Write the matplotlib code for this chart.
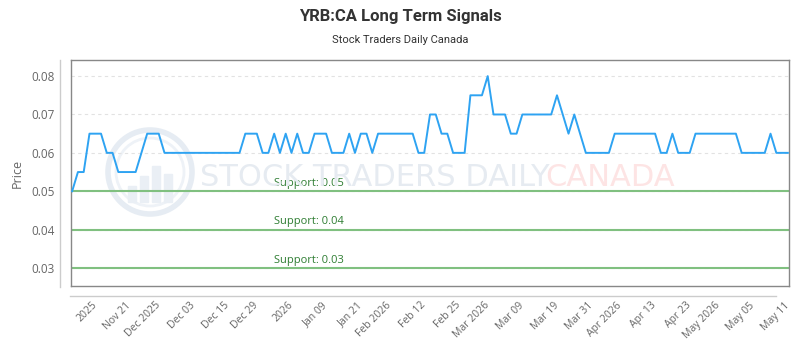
import numpy as np
import matplotlib.pyplot as plt
import matplotlib.transforms as mtransforms
from matplotlib.patches import Circle, Rectangle
from matplotlib.lines import Line2D


prices = [0.05, 0.055, 0.055, 0.065, 0.065, 0.065, 0.06, 0.06, 0.055, 0.055,
          0.055, 0.055, 0.06, 0.065, 0.065, 0.065, 0.06, 0.06, 0.06, 0.06,
          0.06, 0.06, 0.06, 0.06, 0.06, 0.06, 0.06, 0.06, 0.06, 0.06,
          0.065, 0.065, 0.065, 0.06, 0.06, 0.065, 0.06, 0.065, 0.06, 0.065,
          0.06, 0.06, 0.065, 0.065, 0.065, 0.06, 0.06, 0.06, 0.065, 0.06,
          0.065, 0.065, 0.06, 0.065, 0.065, 0.065, 0.065, 0.065, 0.065, 0.065,
          0.06, 0.06, 0.07, 0.07, 0.065, 0.065, 0.06, 0.06, 0.06, 0.075,
          0.075, 0.075, 0.08, 0.07, 0.07, 0.07, 0.065, 0.065, 0.07, 0.07,
          0.07, 0.07, 0.07, 0.07, 0.075, 0.07, 0.065, 0.07, 0.065, 0.06,
          0.06, 0.06, 0.06, 0.06, 0.065, 0.065, 0.065, 0.065, 0.065, 0.065,
          0.065, 0.065, 0.06, 0.06, 0.065, 0.06, 0.06, 0.06, 0.065, 0.065,
          0.065, 0.065, 0.065, 0.065, 0.065, 0.065, 0.06, 0.06, 0.06, 0.06,
          0.06, 0.065, 0.06, 0.06, 0.06]

support_levels = [0.05, 0.04, 0.03]

tick_idx = [4, 10, 15, 21, 27, 32, 38, 44, 50, 55, 61,
            67, 72, 78, 84, 90, 95, 101, 107, 112, 118, 124]
tick_labels = ['2025', 'Nov 21', 'Dec 2025', 'Dec 03', 'Dec 15', 'Dec 29',
               '2026', 'Jan 09', 'Jan 21', 'Feb 2026', 'Feb 12', 'Feb 25',
               'Mar 2026', 'Mar 09', 'Mar 19', 'Mar 31', 'Apr 2026', 'Apr 13',
               'Apr 23', 'May 2026', 'May 05', 'May 11']
y_ticks = [0.03, 0.04, 0.05, 0.06, 0.07, 0.08]

W, H = 800, 350

fig = plt.figure(figsize=(W / 100, H / 100), dpi=100)
ax = fig.add_axes([71 / W, 1 - 286 / H, 718 / W, 226 / H])

# watermark
fig.add_artist(Circle((1.5, 1.78), 0.42, transform=fig.dpi_scale_trans,
                      fill=False, ec='#e6ecf3', lw=4, zorder=0))
fig.add_artist(Circle((1.5, 1.78), 0.34, transform=fig.dpi_scale_trans,
                      fill=False, ec='#eef2f7', lw=2, zorder=0))
for i, h in enumerate([0.16, 0.26, 0.36, 0.28]):
    fig.add_artist(Rectangle((1.28 + i * 0.12, 1.48), 0.08, h,
                             transform=fig.dpi_scale_trans,
                             color='#eaeff5', zorder=0))
fig.text(200 / W, 1 - 178 / H, 'STOCK TRADERS DAILY', family='DejaVu Sans',
         fontsize=22, color='#e6ebf1', va='center', ha='left', zorder=0)
fig.text(545 / W, 1 - 178 / H, 'CANADA', family='DejaVu Sans',
         fontsize=22, color='#fde4e4', va='center', ha='left', zorder=0)
ax.patch.set_alpha(0)

x = np.arange(len(prices))
ax.plot(x, prices, color='#2ea3f2', lw=1.4, zorder=3)

for s in support_levels:
    ax.axhline(s, color='#80c080', lw=1.5, zorder=2)
    ax.text(35, s + 0.0006, f'Support: {s:.2f}', color='#2e7d32',
            fontsize=8, family='Open Sans', ha='left', va='bottom')

ax.set_xlim(-0.2, len(prices) - 0.8)
ax.set_ylim(0.0253, 0.0842)
ax.set_yticks(y_ticks)
ax.set_yticklabels([f'{v:.2f}' for v in y_ticks])
ax.yaxis.grid(True, ls=(0, (3, 3)), color='#e2e2e2', lw=0.8)
ax.set_axisbelow(True)
ax.set_xticks(tick_idx)
ax.set_xticklabels(tick_labels, rotation=45, ha='right',
                   rotation_mode='anchor')
ax.tick_params(axis='x', length=0, pad=10, labelsize=7.5, labelcolor='#666666')
ax.tick_params(axis='y', length=0, pad=12, labelsize=8.5, labelcolor='#666666')
shift = mtransforms.ScaledTranslation(-4 / 100, 0, fig.dpi_scale_trans)
for lab in ax.get_xticklabels():
    lab.set_transform(lab.get_transform() + shift)
for lab in ax.get_xticklabels() + ax.get_yticklabels():
    lab.set_family('Open Sans')
for sp in ax.spines.values():
    sp.set_color('#888888')
    sp.set_linewidth(1)

ax.set_ylabel('Price', color='#666666', fontsize=9, family='Open Sans',
              labelpad=5)

fig.add_artist(Line2D([60 / W, 60 / W], [1 - 60 / H, 1 - 287 / H],
                      color='#cccccc', lw=1))
fig.add_artist(Line2D([70 / W, 776 / W], [1 - 296 / H, 1 - 296 / H],
                      color='#cccccc', lw=1))

fig.text(0.5, 1 - 16 / H, 'YRB:CA Long Term Signals', family='Roboto',
         fontsize=12, fontweight='bold', color='#333333',
         ha='center', va='center')
fig.text(0.5, 1 - 40 / H, 'Stock Traders Daily Canada', family='Roboto',
         fontsize=8, color='#333333', ha='center', va='center')

fig.savefig('out.png', dpi=100)
